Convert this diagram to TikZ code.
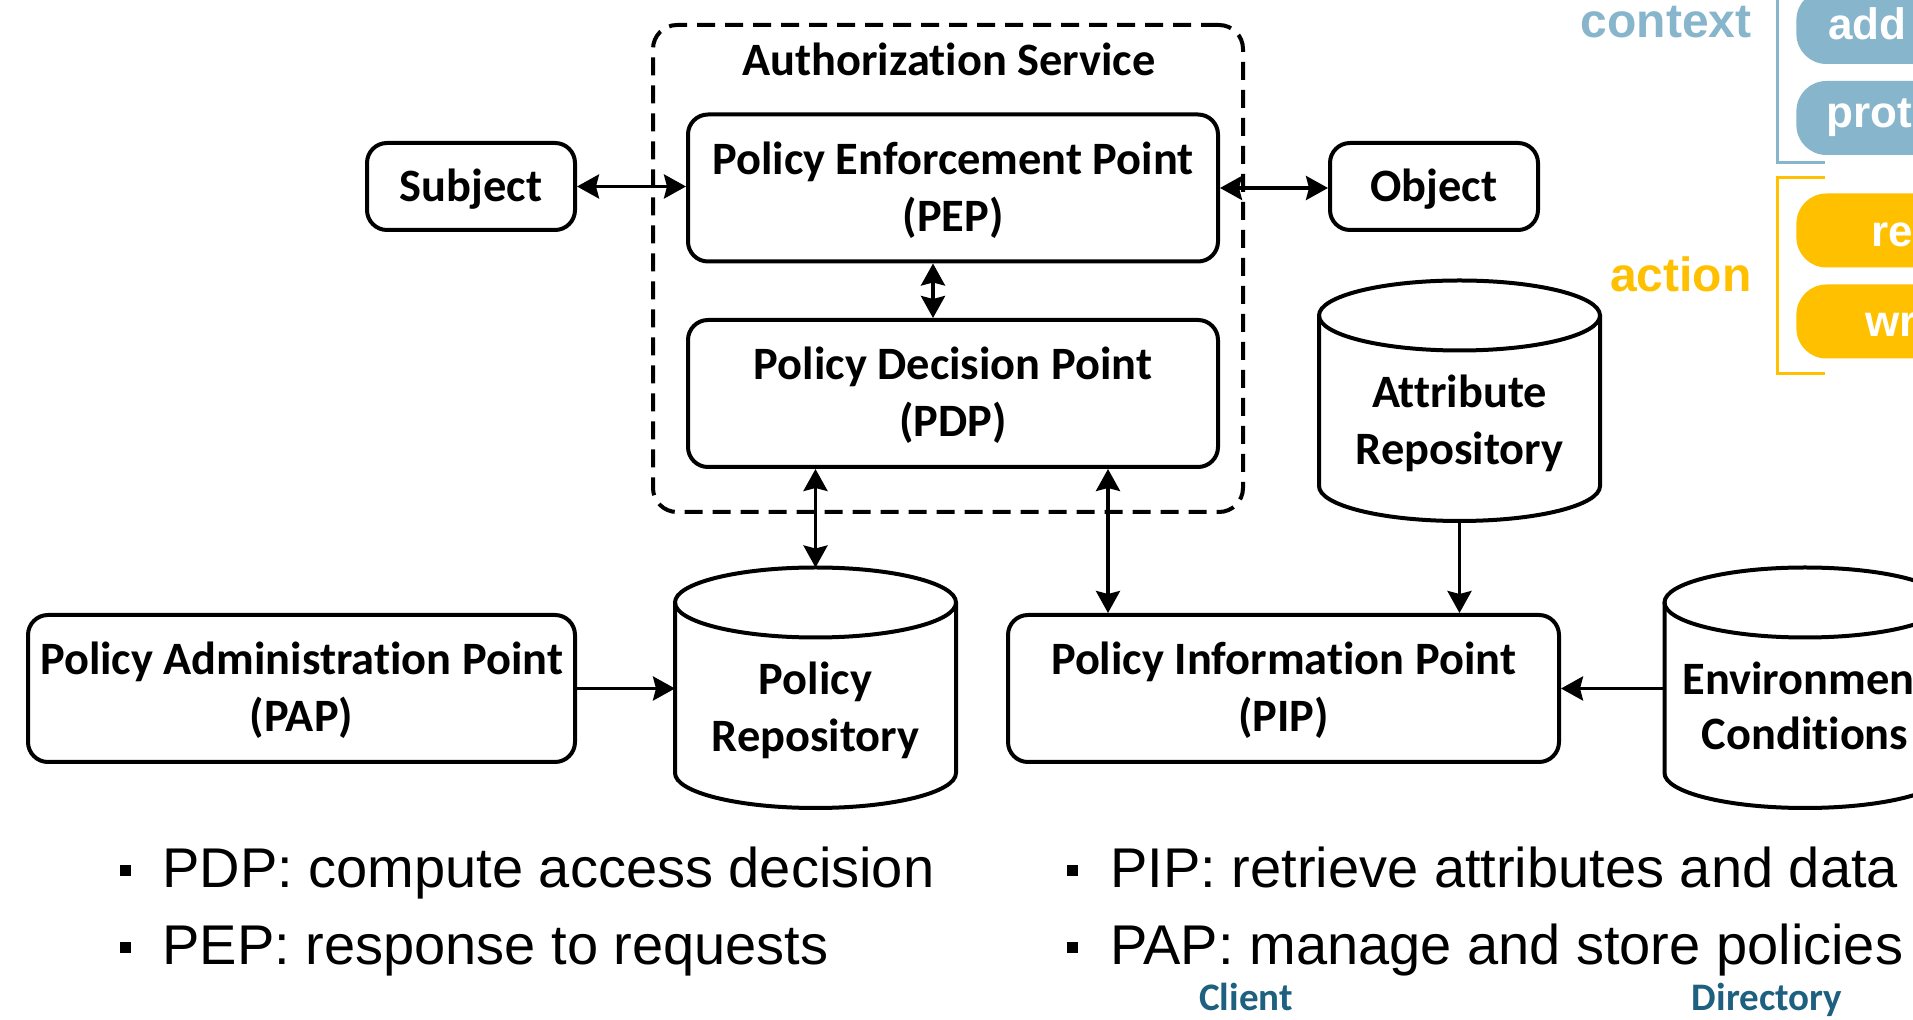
\documentclass[tikz,border=0pt]{standalone}
\usepackage{fontspec}
\usetikzlibrary{arrows.meta}
\newfontfamily\calfont{Carlito}[Ligatures=NoCommon]
\newfontfamily\arialfont{Liberation Sans}
\definecolor{ctxblue}{RGB}{135,181,204}
\definecolor{actorange}{RGB}{255,192,0}
\definecolor{tealtext}{RGB}{30,96,128}
\newcommand\tstrut{\rule{0pt}{21.3pt}}
\newcommand\bstrut{\rule[-6.5pt]{0pt}{0pt}}
\tikzset{
  x=0.5pt, y=-0.5pt,
  >={Stealth[length=11pt,width=12pt,inset=1.5pt]},
  lbl/.style={font=\calfont\bfseries\fontsize{23.2pt}{28.5pt}\selectfont, align=center, inner sep=0pt},
  box/.style={lbl, draw, line width=2pt, rounded corners=10pt},
  cylbox/.style={lbl, minimum width=140.5pt, minimum height=105.75pt, outer sep=0pt},
  arr/.style={line width=1.75pt},
  bullettext/.style={font=\arialfont\fontsize{28pt}{32pt}\selectfont, anchor=base west, inner sep=0pt},
  bulletsq/.style={fill=black, minimum size=5.5pt, inner sep=0pt},
  sidelbl/.style={font=\arialfont\bfseries\fontsize{24pt}{28pt}\selectfont, anchor=base east, inner sep=0pt},
  pilltext/.style={font=\arialfont\bfseries\fontsize{22pt}{26pt}\selectfont, text=white, anchor=base west, inner sep=0pt},
  pill/.style={rounded corners=15pt, minimum height=37pt, minimum width=150pt, anchor=west, inner sep=0pt},
  bottomlbl/.style={font=\calfont\bfseries\fontsize{19.5pt}{23pt}\selectfont, text=tealtext, anchor=base, inner sep=0pt},
  envlbl/.style={font=\calfont\bfseries\fontsize{23.2pt}{28.5pt}\selectfont, inner sep=0pt},
}
% cylinder outline: node north = centre of top ellipse, bulge bottom = south + 3pt
\newcommand\cylout[1]{%
  \draw[line width=2pt] (#1.north west) -- ([yshift=20.5pt]#1.south west)
    arc[start angle=180,end angle=360,x radius=70.25pt,y radius=17.5pt] -- (#1.north east);
  \draw[line width=2pt] (#1.north) ellipse[x radius=70.25pt,y radius=17.5pt];}
\begin{document}
\begin{tikzpicture}
\useasboundingbox (0,0) rectangle (1913,1020);
\fill[white] (0,0) rectangle (1913,1020);
\clip (0,0) rectangle (1913,1020);

% authorization service container
\node[draw, line width=2pt, dash pattern=on 9pt off 5pt, rounded corners=12pt,
      minimum width=295pt, minimum height=243.5pt, inner sep=0pt] (auth) at (948,268.5) {};
\node[lbl] (authtitle) at (949,61) {\tstrut Authorization Service\bstrut};

\node[box, minimum width=265pt, minimum height=73.5pt] (PEP) at (953,188) {\tstrut Policy Enforcement Point\\(PEP)\bstrut};
\node[box, minimum width=265pt, minimum height=73.5pt] (PDP) at (953,393.5) {\tstrut Policy Decision Point\\(PDP)\bstrut};

\node[box, minimum width=104pt, minimum height=43.5pt] (Subject) at (471,186.5) {\tstrut Subject\bstrut};
\node[box, minimum width=104pt, minimum height=43.5pt] (Object) at (1434,186.5) {\tstrut Object\bstrut};

\node[box, minimum width=273.5pt, minimum height=73.5pt] (PAP) at (301.5,688.5) {\tstrut Policy Administration Point\\(PAP)\bstrut};
\node[box, minimum width=275.5pt, minimum height=73.5pt] (PIP) at (1283.5,688.5) {\tstrut Policy Information Point\\(PIP)\bstrut};

% cylinders
\node[cylbox] (PolRepo) at (815.5,708.25) {\tstrut Policy\\Repository\bstrut};
\cylout{PolRepo}
\node[cylbox] (Attr) at (1459.5,421.25) {\tstrut Attribute\\Repository\bstrut};
\cylout{Attr}
\node[cylbox] (Env) at (1805,708.25) {};
\cylout{Env}
\node[envlbl, anchor=base west] (envt1) at (1682,695) {Environmen};
\node[envlbl, anchor=base] (envt2) at (1805,750) {Conditions};

% connectors
\draw[arr,<->] (Subject.east) -- (Subject.east -| PEP.west);
\draw[arr,<->] (PEP.east) -- (PEP.east -| Object.west);
\draw[arr,<->] ([xshift=-10pt]PEP.south) -- ([xshift=-10pt]PDP.north);
\draw[arr,<->] (PDP.south -| PolRepo.north) -- ([yshift=17.5pt]PolRepo.north);
\coordinate (pipx) at (1108,0);
\draw[arr,<->] (PDP.south -| pipx) -- (PIP.north -| pipx);
\draw[arr,->] ([yshift=3pt]Attr.south) -- (Attr.south |- PIP.north);
\draw[arr,->] (PAP.east) -- (PAP.east -| PolRepo.west);
\draw[arr,->] (Env.west |- PIP.east) -- (PIP.east);

% right side: context / action
\node[sidelbl, text=ctxblue] (ctx) at (1752,38) {context};
\node[sidelbl, text=actorange] (act) at (1752,292) {action};
\draw[ctxblue, line width=1.5pt] (1777,-5) -- (1777,163) -- (1825,163);
\draw[actorange, line width=1.5pt] (1825,178) -- (1777,178) -- (1777,374) -- (1825,374);
\node[pill, fill=ctxblue] (p1) at (1796,27) {};
\node[pill, fill=ctxblue] (p2) at (1796,118) {};
\node[pill, fill=actorange] (p3) at (1796,230.5) {};
\node[pill, fill=actorange] (p4) at (1796,321.5) {};
\node[pilltext] (p1t) at (1828,40) {add};
\node[pilltext] (p2t) at (1826,128) {prot};
\node[pilltext] (p3t) at (1871,247) {re};
\node[pilltext] (p4t) at (1865,337) {wr};

% bullets
\node[bulletsq] (b1) at (125,871) {};
\node[bulletsq] (b2) at (125,948) {};
\node[bulletsq] (b3) at (1072,871) {};
\node[bulletsq] (b4) at (1072,948) {};
\node[bullettext] (t1) at (162,888) {PDP: compute access decision};
\node[bullettext] (t2) at (162,965) {PEP: response to requests};
\node[bullettext] (t3) at (1110,888) {PIP: retrieve attributes and data};
\node[bullettext] (t4) at (1110,965) {PAP: manage and store policies};

\node[bottomlbl] (client) at (1246,1011) {Client};
\node[bottomlbl] (dir) at (1767,1011) {Directory};
\end{tikzpicture}
\end{document}
